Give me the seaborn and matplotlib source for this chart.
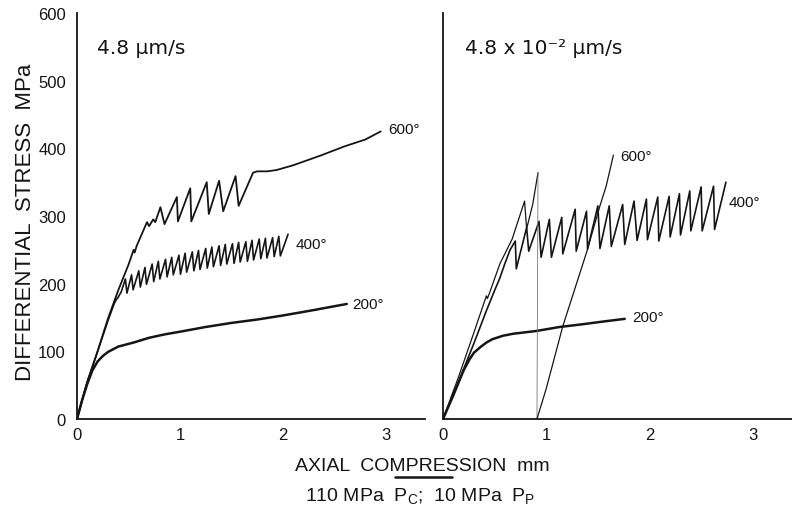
import matplotlib
matplotlib.use("Agg")
import matplotlib.pyplot as plt
import seaborn as sns
import numpy as np
import pandas as pd

sns.set_theme(style="white")
plt.rcParams['font.family'] = ['Liberation Sans', 'DejaVu Sans']

# ---------------- data ----------------
# Left panel: 4.8 um/s
L200_x = [0, 0.05, 0.10, 0.15, 0.20, 0.25, 0.30, 0.40, 0.55, 0.70, 0.85, 1.00, 1.25, 1.50, 1.75, 2.00, 2.30, 2.62]
L200_y = [0, 28, 52, 72, 85, 93, 99, 107, 113, 120, 125, 129, 136, 142, 147, 153, 161, 170]

L600_x = [0, 0.05, 0.10, 0.20, 0.30, 0.40, 0.50, 0.55, 0.56, 0.58, 0.62, 0.66, 0.68, 0.70, 0.74, 0.76,
          0.81, 0.85, 0.97, 0.98, 1.10, 1.11, 1.26, 1.28, 1.38, 1.42, 1.54, 1.57, 1.71, 1.75, 1.85,
          1.94, 2.10, 2.36, 2.60, 2.80, 2.95]
L600_y = [0, 28, 55, 100, 148, 190, 228, 250, 246, 256, 270, 284, 291, 285, 295, 291,
          313, 288, 328, 292, 341, 292, 350, 303, 352, 307, 359, 315, 364, 366, 366,
          368, 375, 389, 403, 413, 425]

L400_pre_x = [0, 0.05, 0.10, 0.20, 0.30, 0.36, 0.38, 0.40, 0.43]
L400_pre_y = [0, 28, 55, 100, 145, 170, 176, 180, 188]
L400_peak_x = [0.47, 0.53, 0.60, 0.66, 0.73, 0.79, 0.86, 0.92, 0.99, 1.05, 1.12, 1.18, 1.25,
               1.31, 1.38, 1.44, 1.51, 1.57, 1.64, 1.70, 1.77, 1.83, 1.90, 1.96, 2.05]
L400_peak_y = [207, 213, 219, 224, 229, 233, 236, 239, 242, 245, 247, 249, 252,
               254, 256, 258, 259, 261, 262, 264, 266, 267, 268, 270, 273]
L400_trough_x = [0.485, 0.545, 0.615, 0.675, 0.745, 0.805, 0.875, 0.935, 1.005, 1.065, 1.135, 1.195,
                 1.265, 1.325, 1.395, 1.455, 1.525, 1.585, 1.655, 1.715, 1.785, 1.845, 1.915, 1.975]
L400_trough_y = [186, 191, 195, 199, 203, 207, 210, 213, 214, 217, 219, 221,
                 223, 225, 227, 229, 230, 232, 233, 235, 237, 238, 240, 241]

# Right panel: 4.8 x 10^-2 um/s
R200_x = [0, 0.10, 0.20, 0.26, 0.30, 0.36, 0.42, 0.48, 0.58, 0.68, 0.90, 1.13, 1.35, 1.55, 1.76]
R200_y = [0, 35, 72, 89, 98, 106, 113, 118, 123, 126, 130, 136, 140, 144, 148]

R600_load_x = [0, 0.15, 0.30, 0.42, 0.43, 0.45, 0.55, 0.67, 0.79, 0.81, 0.87, 0.92]
R600_load_y = [0, 62, 128, 182, 178, 186, 229, 266, 322, 281, 318, 364]
R600_drop_x = [0.92, 0.91]
R600_drop_y = [364, 0]
R600_reload_x = [0.91, 1.00, 1.16, 1.39, 1.52, 1.58, 1.62, 1.65]
R600_reload_y = [0, 45, 137, 246, 315, 344, 370, 390]

R400_pre_x = [0, 0.15, 0.30, 0.42, 0.50, 0.55, 0.60, 0.65, 0.70]
R400_pre_y = [0, 55, 112, 160, 190, 208, 230, 250, 263]
R400_trough_x = [0.71, 0.83, 0.95, 1.05, 1.16, 1.29, 1.40, 1.52, 1.63, 1.76, 1.88, 1.98,
                 2.09, 2.20, 2.30, 2.40, 2.51, 2.63]
R400_trough_y = [222, 248, 239, 239, 244, 248, 251, 252, 255, 258, 264, 265,
                 263, 269, 272, 278, 278, 280]
R400_peak_x = [0.81, 0.93, 1.03, 1.15, 1.28, 1.39, 1.50, 1.61, 1.74, 1.85, 1.97, 2.08,
               2.19, 2.29, 2.39, 2.50, 2.62, 2.74]
R400_peak_y = [283, 292, 295, 298, 310, 307, 315, 315, 317, 322, 325, 328,
               329, 333, 337, 343, 344, 350]

y_ticks = [0, 100, 200, 300, 400, 500, 600]
x_ticks = [0, 1, 2, 3]

# ---------------- build series ----------------
def interleave(ax_, ay_, bx, by):
    xs, ys = [], []
    for i in range(len(ax_)):
        xs.append(ax_[i]); ys.append(ay_[i])
        if i < len(bx):
            xs.append(bx[i]); ys.append(by[i])
    return xs, ys

l4x, l4y = interleave(L400_peak_x, L400_peak_y, L400_trough_x, L400_trough_y)
L400_x = L400_pre_x + l4x
L400_y = L400_pre_y + l4y
r4x, r4y = interleave(R400_trough_x, R400_trough_y, R400_peak_x, R400_peak_y)
R400_x = R400_pre_x + r4x
R400_y = R400_pre_y + r4y

ink = '#151515'

fig = plt.figure(figsize=(7.92, 5.10), dpi=100)
axL = fig.add_axes([77/792, 1-420/510, 348/792, 406/510])
axR = fig.add_axes([443/792, 1-420/510, 349/792, 406/510])

def draw(ax, x, y, lw, color=ink, alpha=1.0):
    sns.lineplot(x=x, y=y, ax=ax, sort=False, estimator=None, color=color,
                 linewidth=lw, alpha=alpha)

draw(axL, L200_x, L200_y, 1.8)
draw(axL, L400_x, L400_y, 1.2)
draw(axL, L600_x, L600_y, 1.3)

draw(axR, R200_x, R200_y, 1.8)
draw(axR, R400_x, R400_y, 1.2)
draw(axR, R600_load_x, R600_load_y, 0.9)
draw(axR, R600_drop_x, R600_drop_y, 0.6, color='#777777')
draw(axR, R600_reload_x, R600_reload_y, 0.9)

for ax in (axL, axR):
    ax.set_xlim(0, 3.38)
    ax.set_ylim(0, 600)
    ax.set_xticks(x_ticks)
    ax.set_xticklabels([str(t) for t in x_ticks])
    ax.set_yticks(y_ticks)
    sns.despine(ax=ax)
    for s in ('left', 'bottom'):
        ax.spines[s].set_linewidth(1.3)
        ax.spines[s].set_color(ink)
    ax.tick_params(axis='x', direction='in', length=5, width=1, colors=ink, labelsize=12, pad=6)
    ax.tick_params(axis='y', direction='out', length=5, width=1, colors=ink, labelsize=12, pad=3)
    ax.set_xlabel('')
    ax.set_ylabel('')
    ax.patch.set_alpha(0)

axL.set_yticklabels([str(t) for t in y_ticks])
axR.set_yticklabels([])

# panel titles
axL.text(97/792, 1-48/510, '4.8 µm/s', transform=fig.transFigure, fontsize=14.5,
         va='center', ha='left', color=ink, family=['DejaVu Sans'])
axR.text(465/792, 1-48/510, '4.8 x 10⁻² µm/s', transform=fig.transFigure, fontsize=14.5,
         va='center', ha='left', color=ink, family=['DejaVu Sans'])

# curve labels
def lab(ax, px, py, s):
    ax.text(px/792, 1-py/510, s, transform=fig.transFigure, fontsize=11,
            va='center', ha='left', color=ink)

lab(axL, 388, 130, '600°')
lab(axL, 296, 245, '400°')
lab(axL, 352, 305, '200°')
lab(axR, 620, 157, '600°')
lab(axR, 729, 203, '400°')
lab(axR, 632, 318, '200°')

# axis titles
fig.text(26/792, 1-222/510, 'DIFFERENTIAL  STRESS  MPa', rotation=90,
         fontsize=16, va='center', ha='center', color=ink)
fig.text(422/792, 1-467/510, 'AXIAL  COMPRESSION  mm', fontsize=14,
         va='center', ha='center', color=ink)
fig.text(420/792, 1-496/510, r'110 MPa  $\mathregular{P_C}$;  10 MPa  $\mathregular{P_P}$',
         fontsize=14, va='center', ha='center', color=ink)
fig.add_artist(plt.Line2D([395/792, 452/792], [1-478/510, 1-478/510],
                          transform=fig.transFigure, color=ink, linewidth=1.8))

fig.savefig('out.png', dpi=100, facecolor='white')
